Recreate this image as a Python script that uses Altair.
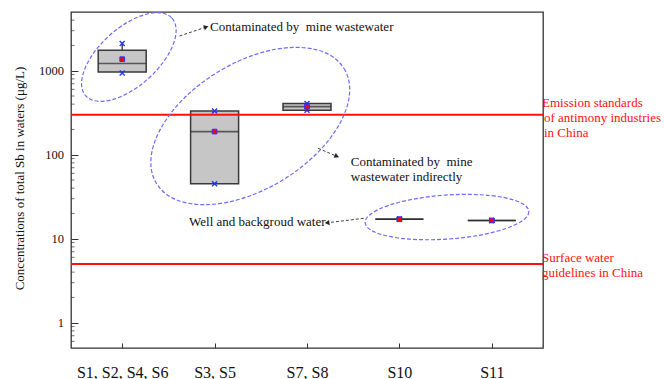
import json
import altair as alt
import pandas as pd

# ---- total Sb concentrations in waters (µg/L), box statistics per site group ----
sites = ["S1, S2, S4, S6", "S3, S5", "S7, S8", "S10", "S11"]
site_pos = [1, 2, 3, 4, 5]
q1 = [968, 45, 339, 17.1, 16.5]
q3 = [1754, 332, 408, 17.1, 16.5]
median = [1218, 188.5, 373.5, 17.1, 16.5]
mean = [1371, 188.5, 373.5, 17.1, 16.5]
v_min = [942, 45, 339, 17.1, 16.5]
v_max = [2108, 332, 408, 17.1, 16.5]

# ---- guideline values (µg/L) ----
limit_values = [300, 5]
limit_text = [
    ["Emission standards", "of antimony industries", "in China"],
    ["Surface water", "guidelines in China"],
]

# ---- axis ticks ----
major_ticks = [1, 10, 100, 1000]
minor_ticks = ([0.6, 0.7, 0.8, 0.9]
               + [m * d for d in (1, 10, 100) for m in range(2, 10)]
               + [2000, 3000, 4000])

# ---- group annotations: ellipse centre (x, µg/L), semi-axes (px), rotation ----
groups = [
    {"x": 1.072, "y": 1455, "a": 58, "b": 29, "angle": 318},
    {"x": 2.386, "y": 219.6, "a": 110, "b": 63, "angle": 328.5},
    {"x": 4.515, "y": 18.1, "a": 82, "b": 22, "angle": 356},
]
notes = [
    {"x": 1.951, "y": 3313, "text": "Contaminated by\u00a0 mine wastewater", "align": "left"},
    {"x": 3.474, "y": 82.6, "text": "Contaminated by\u00a0 mine", "align": "left"},
    {"x": 3.474, "y": 54.7, "text": "wastewater indirectly", "align": "left"},
    {"x": 3.201, "y": 15.9, "text": "Well and backgroud water", "align": "right"},
]
arrows = [
    {"x": 1.620, "y": 2588, "x2": 1.901, "y2": 3289, "angle": 72},
    {"x": 3.120, "y": 119.2, "x2": 3.315, "y2": 96.6, "angle": 113},
    {"x": 3.614, "y": 17.5, "x2": 3.226, "y2": 15.5, "angle": 263},
]

FONT = "Liberation Serif"
BOX_PX = 48
X_MAX = 5.5

xs = alt.Scale(domain=[0.5, X_MAX], nice=False, zero=False)
ys = alt.Scale(type="log", domain=[0.5, 5000], nice=False)

stats = pd.DataFrame({
    "site": sites, "pos": site_pos, "q1": q1, "q3": q3, "median": median,
    "mean": mean, "vmin": v_min, "vmax": v_max,
})

x_axis = alt.Axis(
    values=site_pos,
    labelExpr=json.dumps(sites) + "[datum.value - 1]",
    tickSize={"expr": "-5"}, labelPadding=21, tickColor="#333",
    labelFont=FONT, labelFontSize=16, labelColor="#111",
    domain=False, grid=False, title=None,
)
y_axis = alt.Axis(
    values=major_ticks, format="d", orient="left",
    tickSize={"expr": "-7"}, labelPadding=14.5, tickColor="#333",
    labelFont=FONT, labelFontSize=12.5, labelColor="#111",
    domain=False, grid=False,
    title="Concentrations of total Sb in waters (μg/L)",
    titleFont=FONT, titleFontSize=13, titleFontWeight="normal", titleColor="#111",
    titleAngle=270, titleX=-52, titleY=166, titleAlign="center", titleBaseline="middle",
)


def X(f):
    return alt.X(f, scale=xs, axis=x_axis)


def Y(f):
    return alt.Y(f, scale=ys, axis=y_axis)


boxes = alt.Chart(stats).mark_bar(
    size=BOX_PX, fill="#c6c6c6", stroke="#3a3a3a", strokeWidth=1.5
).encode(x=X("pos:Q"), y=Y("q1:Q"), y2="q3:Q")

whisk_hi = alt.Chart(stats).mark_rule(color="#333", strokeWidth=1.3).encode(
    x=X("pos:Q"), y=Y("q3:Q"), y2="vmax:Q")
whisk_lo = alt.Chart(stats).mark_rule(color="#333", strokeWidth=1.3).encode(
    x=X("pos:Q"), y=Y("vmin:Q"), y2="q1:Q")

medians = alt.Chart(stats).mark_tick(
    orient="horizontal", size=BOX_PX, thickness=1.6, color="#2a2a2a"
).encode(x=X("pos:Q"), y=Y("median:Q"))

# short inward minor ticks on the log axis
minor = alt.Chart(pd.DataFrame({"v": minor_ticks})).mark_tick(
    orient="horizontal", size=3.5, thickness=1, color="#333"
).encode(x=alt.value(1.75), y=Y("v:Q"))

limits = alt.Chart(pd.DataFrame({"v": limit_values})).mark_rule(
    color="#ff1010", strokeWidth=2
).encode(y=Y("v:Q"))

ellipse_layers = []
for g in groups:
    r = g["b"] / g["a"]
    k = 0.5523
    path = (f"M1,0C1,{k*r:.4f} {k:.4f},{r:.4f} 0,{r:.4f}"
            f"C{-k:.4f},{r:.4f} -1,{k*r:.4f} -1,0"
            f"C-1,{-k*r:.4f} {-k:.4f},{-r:.4f} 0,{-r:.4f}"
            f"C{k:.4f},{-r:.4f} 1,{-k*r:.4f} 1,0Z")
    ellipse_layers.append(
        alt.Chart(pd.DataFrame([g])).mark_point(
            shape=path, filled=False, stroke="#6b6bff", strokeWidth=1.2,
            strokeDash=[4, 2], size=4 * g["a"] ** 2, angle=g["angle"], opacity=1,
        ).encode(x=X("x:Q"), y=Y("y:Q"))
    )

extremes = pd.DataFrame({"pos": site_pos * 2, "v": v_min + v_max})
ext_marks = alt.Chart(extremes).mark_point(
    shape="M-1,-1L1,1M-1,1L1,-1", filled=False, stroke="#2233ee",
    strokeWidth=1.4, size=25, opacity=1,
).encode(x=X("pos:Q"), y=Y("v:Q"))

mean_marks = alt.Chart(stats).mark_square(
    size=22, fill="#ff0000", stroke="#3030ff", strokeWidth=1, opacity=1
).encode(x=X("pos:Q"), y=Y("mean:Q"))

arrow_df = pd.DataFrame(arrows)
arrow_lines = alt.Chart(arrow_df).mark_rule(
    color="#444", strokeWidth=1, strokeDash=[3, 2]
).encode(x=X("x:Q"), y=Y("y:Q"), x2="x2:Q", y2="y2:Q")
arrow_heads = alt.Chart(arrow_df).mark_point(
    shape="triangle", filled=True, color="#222", size=28, opacity=1
).encode(x=X("x2:Q"), y=Y("y2:Q"), angle=alt.Angle("angle:Q", scale=None))

note_layers = []
for n in notes:
    note_layers.append(
        alt.Chart(pd.DataFrame([n])).mark_text(
            font=FONT, fontSize=13, color="#111", align=n["align"], baseline="middle"
        ).encode(x=X("x:Q"), y=Y("y:Q"), text="text:N")
    )

limit_notes = []
line_offsets = [[(4, -11.7), (6, 3.6), (6, 18.6)], [(4, -6), (4, 9)]]
for val, lines, offs in zip(limit_values, limit_text, line_offsets):
    for line, (dx, dy) in zip(lines, offs):
        limit_notes.append(
            alt.Chart(pd.DataFrame({"x": [X_MAX], "v": [val], "t": [line]})).mark_text(
                font=FONT, fontSize=13, color="#ff1010", align="left",
                baseline="middle", dx=dx, dy=dy,
            ).encode(x=X("x:Q"), y=Y("v:Q"), text="t:N")
        )

chart = alt.layer(
    boxes, whisk_hi, whisk_lo, medians, minor, limits, *ellipse_layers,
    ext_marks, mean_marks, arrow_lines, arrow_heads, *note_layers, *limit_notes,
).properties(
    width=472, height=336,
    autosize=alt.AutoSizeParams(type="none"),
    padding={"left": 71, "top": 12, "right": 121, "bottom": 31},
    background="white",
).configure_view(stroke="#333", strokeWidth=1.3)

chart.save("out.html", embed_options={"renderer": "svg", "actions": False})
